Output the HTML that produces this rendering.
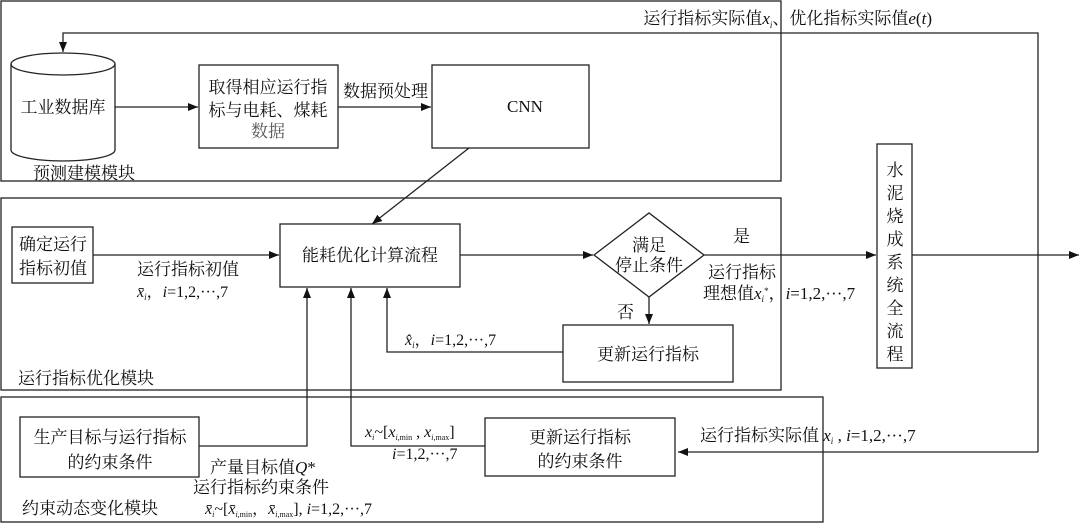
<!DOCTYPE html>
<html><head><meta charset="utf-8"><style>
html,body{margin:0;padding:0;background:#fff;}
svg text{font-family:"Liberation Serif","Noto Serif CJK SC",serif;fill:#111;}
</style></head><body>
<svg width="1080" height="523" viewBox="0 0 1080 523" xmlns="http://www.w3.org/2000/svg">
<defs><marker id="a" markerWidth="10" markerHeight="8" refX="10" refY="4" orient="auto" markerUnits="userSpaceOnUse"><path d="M0,0 L10,4 L0,8 z" fill="#111"/></marker></defs>
<g fill="none" stroke="#222" stroke-width="1.3">
<rect x="1" y="1" width="780" height="180"/>
<rect x="1" y="198" width="780" height="192"/>
<rect x="1" y="397" width="822" height="125"/>
<polyline points="1038,452 1038,33 63,33 63,52" marker-end="url(#a)"/>
<line x1="1038" y1="452" x2="678" y2="452" marker-end="url(#a)"/>
<path d="M11,64 L11,150 A52,11 0 0 0 115,150 L115,64"/>
<ellipse cx="63" cy="64" rx="52" ry="11"/>
<line x1="115" y1="107" x2="198" y2="107" marker-end="url(#a)"/>
<rect x="199" y="65" width="139" height="83"/>
<line x1="338" y1="107" x2="431" y2="107" marker-end="url(#a)"/>
<rect x="432" y="65" width="157" height="83"/>
<line x1="469" y1="148" x2="372" y2="224" marker-end="url(#a)"/>
<rect x="12" y="227" width="81" height="56"/>
<line x1="93" y1="255" x2="279" y2="255" marker-end="url(#a)"/>
<rect x="280" y="224" width="180" height="63"/>
<line x1="460" y1="255" x2="593" y2="255" marker-end="url(#a)"/>
<polygon points="594,255 649,213 704,255 649,297"/>
<line x1="704" y1="255" x2="876" y2="255" marker-end="url(#a)"/>
<line x1="649" y1="297" x2="649" y2="324" marker-end="url(#a)"/>
<rect x="563" y="325" width="170" height="57"/>
<polyline points="563,352 387,352 387,288" marker-end="url(#a)"/>
<polyline points="199,446 307,446 307,288" marker-end="url(#a)"/>
<polyline points="485,446 351,446 351,288" marker-end="url(#a)"/>
<rect x="877" y="144" width="35" height="224"/>
<line x1="912" y1="255" x2="1079" y2="255" marker-end="url(#a)"/>
<rect x="20" y="417" width="179" height="60"/>
<rect x="485" y="418" width="190" height="58"/>
</g>
<g font-size="17">
<text x="63" y="113" text-anchor="middle">工业数据库</text>
<text x="268" y="93" text-anchor="middle">取得相应运行指</text>
<text x="268" y="116" text-anchor="middle">标与电耗、煤耗</text>
<text x="268" y="137" text-anchor="middle" style="fill:#555">数据</text>
<text x="343" y="97">数据预处理</text>
<text x="525" y="112" text-anchor="middle">CNN</text>
<text x="33" y="179">预测建模模块</text>
<text x="932" y="24" text-anchor="end">运行指标实际值<tspan font-style="italic">x</tspan><tspan font-size="9" font-style="italic" dy="4">i</tspan><tspan dy="-4">、优化指标实际值</tspan><tspan font-style="italic">e</tspan>(<tspan font-style="italic">t</tspan>)</text>
<text x="53" y="250" text-anchor="middle">确定运行</text>
<text x="53" y="274" text-anchor="middle">指标初值</text>
<text x="137" y="275">运行指标初值</text>
<text x="137" y="297" font-size="16"><tspan font-style="italic">x̄</tspan><tspan font-size="9" font-style="italic" dy="3">i</tspan><tspan dy="-3">，</tspan><tspan font-style="italic">i</tspan>=1,2,···,7</text>
<text x="370" y="261" text-anchor="middle">能耗优化计算流程</text>
<text x="649" y="251" text-anchor="middle">满足</text>
<text x="649" y="271" text-anchor="middle">停止条件</text>
<text x="733" y="242">是</text>
<text x="708" y="278">运行指标</text>
<text x="703" y="299">理想值<tspan font-style="italic">x</tspan><tspan font-size="9" font-style="italic" dy="3">i</tspan><tspan font-size="9" dy="-8">*</tspan><tspan dy="5">，</tspan><tspan font-style="italic">i</tspan>=1,2,···,7</text>
<text x="617" y="318">否</text>
<text x="648" y="360" text-anchor="middle">更新运行指标</text>
<text x="405" y="345" font-size="16"><tspan font-style="italic">x̂</tspan><tspan font-size="9" font-style="italic" dy="3">i</tspan><tspan dy="-3">，</tspan><tspan font-style="italic">i</tspan>=1,2,···,7</text>
<text x="18" y="384">运行指标优化模块</text>
<g text-anchor="middle">
<text x="895" y="176">水</text><text x="895" y="199">泥</text><text x="895" y="222">烧</text><text x="895" y="245">成</text><text x="895" y="268">系</text><text x="895" y="291">统</text><text x="895" y="314">全</text><text x="895" y="337">流</text><text x="895" y="360">程</text>
</g>
<text x="110" y="443" text-anchor="middle">生产目标与运行指标</text>
<text x="110" y="468" text-anchor="middle">的约束条件</text>
<text x="210" y="473">产量目标值<tspan font-style="italic">Q</tspan>*</text>
<text x="193" y="493">运行指标约束条件</text>
<text x="205" y="514" font-size="16"><tspan font-style="italic">x̄</tspan><tspan font-size="8" font-style="italic" dy="3">i</tspan><tspan dy="-3">~[</tspan><tspan font-style="italic">x̄</tspan><tspan font-size="8" font-style="italic" dy="3">i</tspan><tspan font-size="8">,min</tspan><tspan dy="-3">，</tspan><tspan font-style="italic">x̄</tspan><tspan font-size="8" font-style="italic" dy="3">i</tspan><tspan font-size="8">,max</tspan><tspan dy="-3">], </tspan><tspan font-style="italic">i</tspan>=1,2,···,7</text>
<text x="22" y="514">约束动态变化模块</text>
<text x="365" y="437" font-size="16"><tspan font-style="italic">x</tspan><tspan font-size="8" font-style="italic" dy="3">i</tspan><tspan dy="-3">~[</tspan><tspan font-style="italic">x</tspan><tspan font-size="8" font-style="italic" dy="3">i</tspan><tspan font-size="8">,min</tspan><tspan dy="-3"> , </tspan><tspan font-style="italic">x</tspan><tspan font-size="8" font-style="italic" dy="3">i</tspan><tspan font-size="8">,max</tspan><tspan dy="-3">]</tspan></text>
<text x="392" y="459" font-size="16"><tspan font-style="italic">i</tspan>=1,2,···,7</text>
<text x="580" y="443" text-anchor="middle">更新运行指标</text>
<text x="580" y="467" text-anchor="middle">的约束条件</text>
<text x="700" y="441">运行指标实际值 <tspan font-style="italic">x</tspan><tspan font-size="9" font-style="italic" dy="3">i</tspan><tspan dy="-3"> , </tspan><tspan font-style="italic">i</tspan>=1,2,···,7</text>
</g>
</svg>
</body></html>
